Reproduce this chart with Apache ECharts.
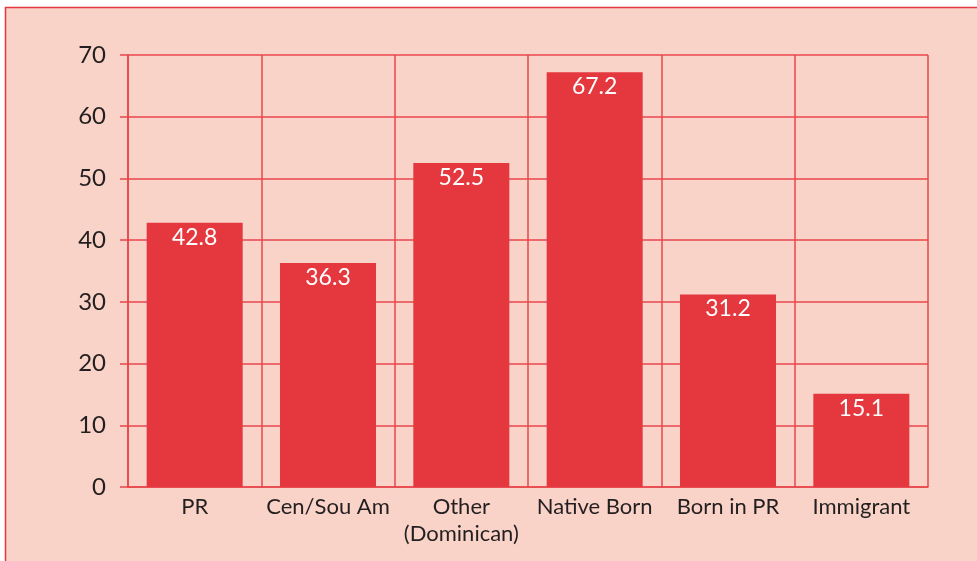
<!DOCTYPE html>
<html>
<head>
<meta charset="utf-8">
<script src="https://cdn.jsdelivr.net/npm/echarts@6/dist/echarts.min.js"></script>
<style>
html,body{margin:0;padding:0;background:#fff;}
#chart{width:977px;height:561px;}
</style>
</head>
<body>
<div id="chart"></div>
<script>
var categories = ['PR', 'Cen/Sou Am', 'Other\n(Dominican)', 'Native Born', 'Born in PR', 'Immigrant'];
var values = [42.8, 36.3, 52.5, 67.2, 31.2, 15.1];
var yTicks = [0, 10, 20, 30, 40, 50, 60, 70];

var RED = '#e4373e';
var LINE = '#e8464c';
var TEXT = '#231f20';
var FONT = 'Lato';

var chart = echarts.init(document.getElementById('chart'));
chart.setOption({
  backgroundColor: '#ffffff',
  animation: false,
  graphic: [{
    type: 'rect',
    z: -10,
    silent: true,
    shape: {x: 5.5, y: 7.5, width: 1000, height: 600},
    style: {fill: '#f9d3c8', stroke: RED, lineWidth: 1.5}
  }],
  grid: {left: 128, right: 49, top: 55, bottom: 74, containLabel: false},
  xAxis: {
    type: 'category',
    data: categories,
    axisLine: {show: true, lineStyle: {color: LINE, width: 1.5}},
    axisTick: {show: false},
    splitLine: {show: true, lineStyle: {color: LINE, width: 1.5}},
    axisLabel: {
      color: TEXT, fontFamily: FONT, fontSize: 22, margin: 6,
      lineHeight: 27, interval: 0
    }
  },
  yAxis: {
    type: 'value',
    min: 0, max: 70, interval: 10,
    axisLine: {show: true, lineStyle: {color: LINE, width: 1.5}},
    axisTick: {show: true, length: 8, lineStyle: {color: LINE, width: 1.5}},
    splitLine: {show: true, lineStyle: {color: LINE, width: 1.5}},
    axisLabel: {
      color: TEXT, fontFamily: FONT, fontSize: 24, margin: 22,
      formatter: function (v) { return yTicks.indexOf(v) >= 0 ? String(v) : ''; }
    }
  },
  series: [{
    type: 'bar',
    data: values,
    barWidth: '72%',
    itemStyle: {color: RED},
    label: {
      show: true,
      position: 'insideTop',
      distance: 3,
      color: '#ffffff',
      fontFamily: FONT,
      fontSize: 23,
      formatter: function (p) { return p.value.toFixed(1); }
    }
  }]
});
</script>
</body>
</html>
